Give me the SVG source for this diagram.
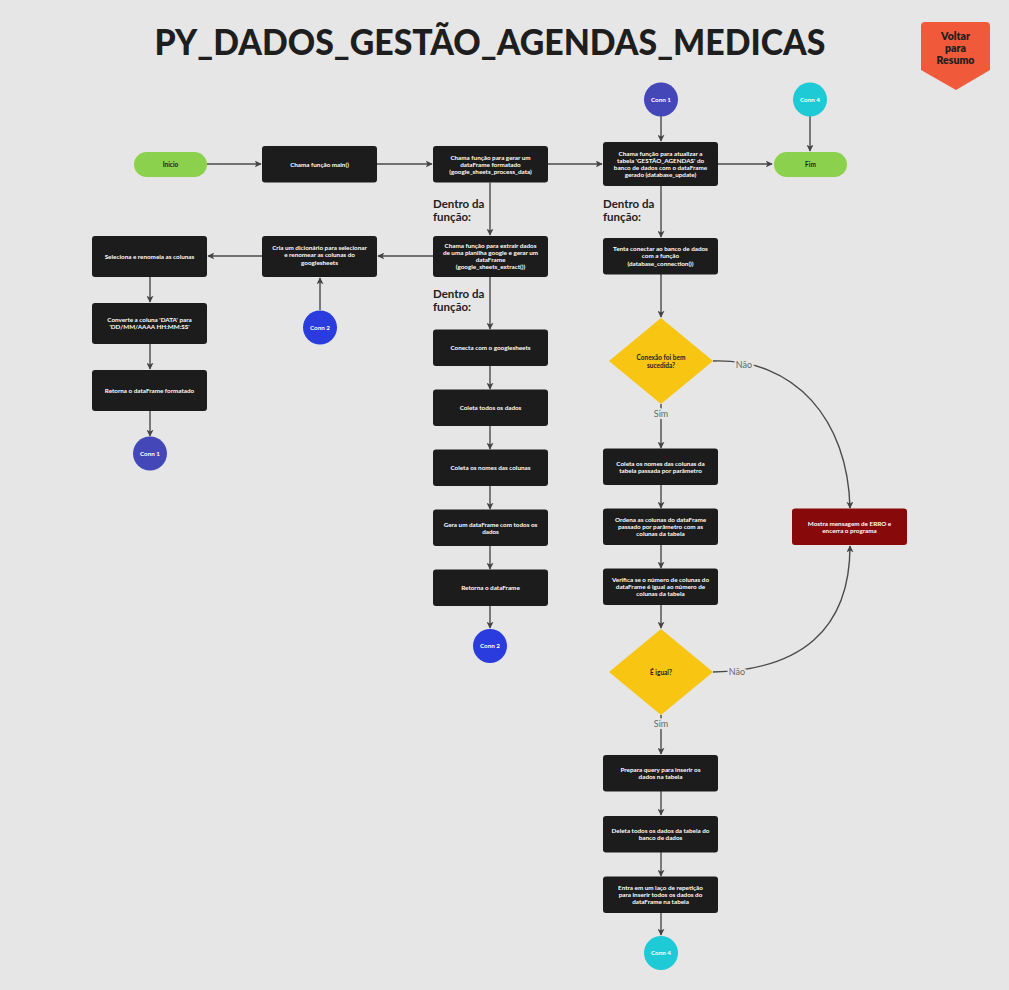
<svg xmlns="http://www.w3.org/2000/svg" width="1009" height="990" viewBox="0 0 1009 990">
<defs>
<marker id="ah" viewBox="0 0 10 10" refX="9" refY="5" markerWidth="7" markerHeight="7" markerUnits="userSpaceOnUse" orient="auto">
<path d="M0,0 L10,5 L0,10 L2.5,5 Z" fill="#444"/>
</marker>
<style>
.bx{fill:#1c1c1c;}
.bt{font-family:Lato,"Liberation Sans",sans-serif;font-weight:700;font-size:6.3px;fill:#ffffff;text-anchor:middle;}
.dt{font-family:Lato,"Liberation Sans",sans-serif;font-weight:700;font-size:6.5px;fill:#222;text-anchor:middle;}
.pill{fill:#8bd14e;}
.dia{fill:#f7c512;}
.ln{fill:none;stroke:#4a4a4a;stroke-width:1.4;marker-end:url(#ah);}
.lbl{font-family:Lato,"Liberation Sans",sans-serif;font-size:9px;fill:#666;text-anchor:middle;stroke:#e6e6e6;stroke-width:4;paint-order:stroke;}
.df{font-family:Lato,"Liberation Sans",sans-serif;font-weight:700;font-size:11.5px;fill:#222;}
</style>
</defs>
<rect width="1009" height="990" fill="#e6e6e6"/>
<text x="490" y="55" font-family="Lato,'Liberation Sans',sans-serif" font-weight="900" font-size="36" fill="#1e1e1e" text-anchor="middle" textLength="671" lengthAdjust="spacingAndGlyphs">PY_DADOS_GESTÃO_AGENDAS_MEDICAS</text>
<g id="voltar">
<path d="M925,22 H986 Q990,22 990,26 V70 L956,90 L921,70 V26 Q921,22 925,22 Z" fill="#f05a3a"/>
<text x="955.5" y="40" font-family="Lato,'Liberation Sans',sans-serif" font-weight="800" font-size="10.5" fill="#1e1e1e" text-anchor="middle">Voltar</text>
<text x="955.5" y="52" font-family="Lato,'Liberation Sans',sans-serif" font-weight="800" font-size="10.5" fill="#1e1e1e" text-anchor="middle">para</text>
<text x="955.5" y="64" font-family="Lato,'Liberation Sans',sans-serif" font-weight="800" font-size="10.5" fill="#1e1e1e" text-anchor="middle">Resumo</text>
</g>
<g id="labels">
<text class="df" x="433" y="208">Dentro da</text>
<text class="df" x="433" y="221">função:</text>
<text class="df" x="433" y="298">Dentro da</text>
<text class="df" x="433" y="311">função:</text>
<text class="df" x="603" y="208">Dentro da</text>
<text class="df" x="603" y="221">função:</text>
</g>
<g id="connectors">
<path class="ln" d="M207,164 H261"/>
<path class="ln" d="M377,164 H432"/>
<path class="ln" d="M548,164 H602"/>
<path class="ln" d="M718,164 H772"/>
<path class="ln" d="M661,116 V141"/>
<path class="ln" d="M810,116 V151"/>
<path class="ln" d="M490,182.5 V235"/>
<path class="ln" d="M433,256 H378"/>
<path class="ln" d="M262,256 H208"/>
<path class="ln" d="M320,310 V278"/>
<path class="ln" d="M150,277 V302"/>
<path class="ln" d="M150,344 V369"/>
<path class="ln" d="M150,411 V436"/>
<path class="ln" d="M490,277 V329"/>
<path class="ln" d="M490,366 V389"/>
<path class="ln" d="M490,426 V449"/>
<path class="ln" d="M490,486 V509"/>
<path class="ln" d="M490,546 V569"/>
<path class="ln" d="M490,606 V628"/>
<path class="ln" d="M661,186 V237"/>
<path class="ln" d="M661,274 V317"/>
<path class="ln" d="M661,404 V448"/>
<path class="ln" d="M661,485 V508"/>
<path class="ln" d="M661,545 V568"/>
<path class="ln" d="M661,605 V628"/>
<path class="ln" d="M661,715 V754"/>
<path class="ln" d="M661,791 V815"/>
<path class="ln" d="M661,852 V876"/>
<path class="ln" d="M661,913 V935"/>
<path class="ln" d="M713,361 C795,358 848,420 850,508"/>
<path class="ln" d="M713,672 C800,670 850,630 850,546"/>
<text class="lbl" x="661" y="417">Sim</text>
<text class="lbl" x="661" y="727">Sim</text>
<text class="lbl" x="744" y="368">Não</text>
<text class="lbl" x="737" y="675">Não</text>
</g>
<g id="inicio"><rect class="pill" x="134" y="152" width="73" height="25" rx="12.5"/><text class="dt" x="170.5" y="166.5">Inicio</text></g>
<g id="main"><rect class="bx" x="262" y="146" width="115" height="36.5" rx="3"/><text class="bt" x="319.5" y="166.5">Chama função main()</text></g>
<g id="process"><rect class="bx" x="433" y="146" width="115" height="36.5" rx="3"/><text class="bt" x="490.5" y="159.5">Chama função para gerar um</text><text class="bt" x="490.5" y="166.8">dataFrame formatado</text><text class="bt" x="490.5" y="174.1">(google_sheets_process_data)</text></g>
<g id="update"><rect class="bx" x="603" y="142" width="115" height="44" rx="3"/><text class="bt" x="660.5" y="155.5">Chama função para atualizar a</text><text class="bt" x="660.5" y="162.8">tabela 'GESTÃO_AGENDAS' do</text><text class="bt" x="660.5" y="170.1">banco de dados com o dataFrame</text><text class="bt" x="660.5" y="177.4">gerado (database_update)</text></g>
<g id="fim"><rect class="pill" x="774" y="152" width="73" height="25" rx="12.5"/><text class="dt" x="810.5" y="166.5">Fim</text></g>
<g id="conn1top"><circle cx="661" cy="99.5" r="17" fill="#4447b8"/><text class="bt" x="661" y="101.7">Conn 1</text></g>
<g id="conn4top"><circle cx="810" cy="99.5" r="17" fill="#1dcad6"/><text class="bt" x="810" y="101.7">Conn 4</text></g>
<g id="extract"><rect class="bx" x="433" y="236" width="115" height="41" rx="3"/><text class="bt" x="490.5" y="247.5">Chama função para extrair dados</text><text class="bt" x="490.5" y="254.8">de uma planilha google e gerar um</text><text class="bt" x="490.5" y="262.1">dataFrame</text><text class="bt" x="490.5" y="269.4">(google_sheets_extract())</text></g>
<g id="cria"><rect class="bx" x="262" y="236" width="115" height="41" rx="3"/><text class="bt" x="319.5" y="250">Cria um dicionário para selecionar</text><text class="bt" x="319.5" y="257.3">e renomear as colunas do</text><text class="bt" x="319.5" y="264.6">googlesheets</text></g>
<g id="seleciona"><rect class="bx" x="92" y="236" width="115" height="41" rx="3"/><text class="bt" x="149.5" y="258.5">Seleciona e renomeia as colunas</text></g>
<g id="conn2left"><circle cx="320" cy="327.5" r="17" fill="#2a3cde"/><text class="bt" x="320" y="329.7">Conn 2</text></g>
<g id="converte"><rect class="bx" x="92" y="303" width="115" height="41" rx="3"/><text class="bt" x="149.5" y="321.5">Converte a coluna 'DATA' para</text><text class="bt" x="149.5" y="328.8">'DD/MM/AAAA HH:MM:SS'</text></g>
<g id="retornaformatado"><rect class="bx" x="92" y="370" width="115" height="41" rx="3"/><text class="bt" x="149.5" y="392.5">Retorna o dataFrame formatado</text></g>
<g id="conn1left"><circle cx="150" cy="453.5" r="17" fill="#4447b8"/><text class="bt" x="150" y="455.7">Conn 1</text></g>
<g id="conecta"><rect class="bx" x="433" y="329.5" width="115" height="36.5" rx="3"/><text class="bt" x="490.5" y="350">Conecta com o googlesheets</text></g>
<g id="coletatodos"><rect class="bx" x="433" y="389.5" width="115" height="36.5" rx="3"/><text class="bt" x="490.5" y="410">Coleta todos os dados</text></g>
<g id="coletanomes"><rect class="bx" x="433" y="449.5" width="115" height="36.5" rx="3"/><text class="bt" x="490.5" y="470">Coleta os nomes das colunas</text></g>
<g id="gera"><rect class="bx" x="433" y="509.5" width="115" height="36.5" rx="3"/><text class="bt" x="490.5" y="526.5">Gera um dataFrame com todos os</text><text class="bt" x="490.5" y="533.8">dados</text></g>
<g id="retornadf"><rect class="bx" x="433" y="569.5" width="115" height="36.5" rx="3"/><text class="bt" x="490.5" y="590">Retorna o dataFrame</text></g>
<g id="conn2center"><circle cx="490" cy="646" r="17" fill="#2a3cde"/><text class="bt" x="490" y="648.2">Conn 2</text></g>
<g id="tenta"><rect class="bx" x="603" y="238" width="115" height="36.5" rx="3"/><text class="bt" x="660.5" y="251">Tenta conectar ao banco de dados</text><text class="bt" x="660.5" y="258.3">com a função</text><text class="bt" x="660.5" y="265.6">(database_connection())</text></g>
<g id="conexao"><path class="dia" d="M661,318 L713,361 L661,404 L609,361 Z"/><text class="dt" x="661" y="360">Conexão foi bem</text><text class="dt" x="661" y="367.5">sucedida?</text></g>
<g id="coletatabela"><rect class="bx" x="603" y="448.5" width="115" height="36.5" rx="3"/><text class="bt" x="660.5" y="465.5">Coleta os nomes das colunas da</text><text class="bt" x="660.5" y="472.8">tabela passada por parâmetro</text></g>
<g id="ordena"><rect class="bx" x="603" y="508.5" width="115" height="36.5" rx="3"/><text class="bt" x="660.5" y="521.8">Ordena as colunas do dataFrame</text><text class="bt" x="660.5" y="529.1">passado por parâmetro com as</text><text class="bt" x="660.5" y="536.4">colunas da tabela</text></g>
<g id="verifica"><rect class="bx" x="603" y="568.5" width="115" height="36.5" rx="3"/><text class="bt" x="660.5" y="581.8">Verifica se o número de colunas do</text><text class="bt" x="660.5" y="589.1">dataFrame é igual ao número de</text><text class="bt" x="660.5" y="596.4">colunas da tabela</text></g>
<g id="igual"><path class="dia" d="M661,629 L713,672 L661,715 L609,672 Z"/><text class="dt" x="661" y="674.5">É igual?</text></g>
<g id="prepara"><rect class="bx" x="603" y="755" width="115" height="36.5" rx="3"/><text class="bt" x="660.5" y="772">Prepara query para inserir os</text><text class="bt" x="660.5" y="779.3">dados na tabela</text></g>
<g id="deleta"><rect class="bx" x="603" y="816" width="115" height="36.5" rx="3"/><text class="bt" x="660.5" y="833">Deleta todos os dados da tabela do</text><text class="bt" x="660.5" y="840.3">banco de dados</text></g>
<g id="entra"><rect class="bx" x="603" y="876.5" width="115" height="36.5" rx="3"/><text class="bt" x="660.5" y="889.8">Entra em um laço de repetição</text><text class="bt" x="660.5" y="897.1">para inserir todos os dados do</text><text class="bt" x="660.5" y="904.4">dataFrame na tabela</text></g>
<g id="conn4bottom"><circle cx="661" cy="953" r="17" fill="#1dcad6"/><text class="bt" x="661" y="955.2">Conn 4</text></g>
<g id="erro"><rect x="792" y="508.5" width="115" height="36.5" rx="3" fill="#870909"/><text class="bt" x="849.5" y="525.5">Mostra mensagem de ERRO e</text><text class="bt" x="849.5" y="532.8">encerra o programa</text></g>
</svg>
